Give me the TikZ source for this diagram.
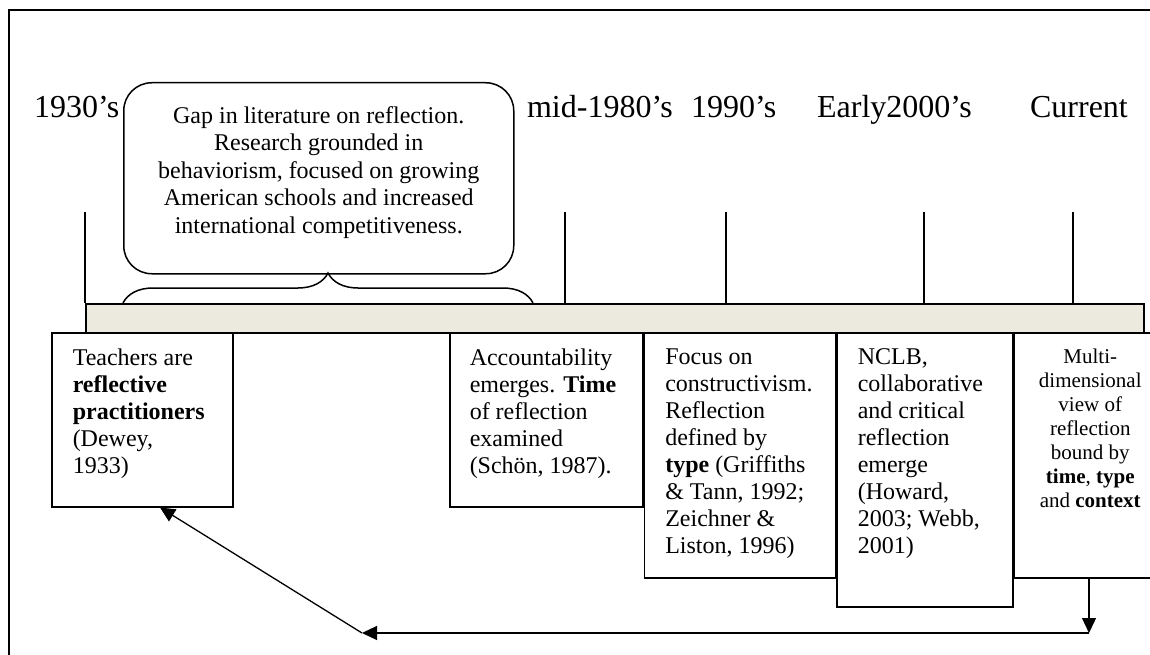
\documentclass[tikz,border=0pt]{standalone}
\usepackage{fontspec}
\setmainfont{Liberation Serif}
\usetikzlibrary{arrows.meta,decorations.pathreplacing,calc}
\definecolor{barfill}{RGB}{236,233,223}
\tikzset{
  era/.style={anchor=base west, font=\fontsize{32}{38}\selectfont},
  period/.style={draw, fill=white, anchor=north west, inner xsep=21pt, inner ysep=16pt, font=\fontsize{24}{27}\selectfont},
  flow/.style={line width=1.3pt, -{Triangle[length=15pt,width=14pt]}}
}
\begin{document}
\begin{tikzpicture}[x=1pt, y=-1pt, line width=1.5pt]
\useasboundingbox (0,0) rectangle (1150,655);
\clip (0,0) rectangle (1150,655);
\draw (9,10) rectangle (1180,690);

\node [era] (y1930) at (30,118) {1930's};
\node [era] (y1980) at (523,118) {mid-1980's};
\node [era] (y1990) at (687,118) {1990's};
\node [era] (y2000) at (813,118) {Early2000's};
\node [era] (ynow) at (1026,118) {Current};

\node [draw, fill=barfill, anchor=north west, inner sep=0pt, minimum width=1058pt, minimum height=29pt] (bar) at (85,303) {};
\foreach \t in {85,565,726,924,1073}
  \draw (\t,212) -- (\t,303);

\node [draw, rounded corners=28pt, anchor=north west, minimum width=390pt, minimum height=191pt] (gap) at (123,82) {};
\node [align=center, font=\fontsize{24}{27.5}\selectfont] (gaptext) at ($(gap.center)+(0,-6)$) {Gap in literature on reflection.\\Research grounded in\\behaviorism, focused on growing\\American schools and increased\\international competitiveness.};
\coordinate (gapL) at (123,303);
\coordinate (gapR) at (533,303);
\draw [decorate, decoration={brace, amplitude=30pt}] (gapL) -- (gapR);

\node [period] (dewey) at (51,332) {\parbox[t][142pt][t]{139pt}{\raggedright Teachers are\\\textbf{reflective}\\\textbf{practitioners}\\(Dewey,\\1933)}};
\node [period, inner xsep=20pt] (acct) at (449,332) {\parbox[t][142pt][t]{153pt}{\raggedright Accountability\\emerges. \textbf{Time}\\of reflection\\examined\\(Schön, 1987).}};
\node [period] (focus) at (acct.north east) {\parbox[t][213pt][t]{149pt}{\raggedright Focus on\\constructivism.\\Reflection\\defined by\\\textbf{type} (Griffiths\\\& Tann, 1992;\\Zeichner \&\\Liston, 1996)}};
\node [period] (nclb) at (focus.north east) {\parbox[t][242pt][t]{134pt}{\raggedright NCLB,\\collaborative\\and critical\\reflection\\emerge\\(Howard,\\2003; Webb,\\2001)}};
\node [period, font=\fontsize{21}{24}\selectfont] (multi) at (nclb.north east) {\parbox[t][213pt][t]{110pt}{\centering Multi-\\dimensional\\view of\\reflection\\bound by\\\textbf{time}, \textbf{type}\\and \textbf{context}}};

\coordinate (turnR) at (1089,633);
\coordinate (turnL) at (362,633);
\draw [flow] (turnR |- multi.south) -- (turnR);
\draw [flow] (turnR) -- (turnL);
\draw [flow] (turnL) -- ($(dewey.south west)+(109,0)$);
\end{tikzpicture}
\end{document}
